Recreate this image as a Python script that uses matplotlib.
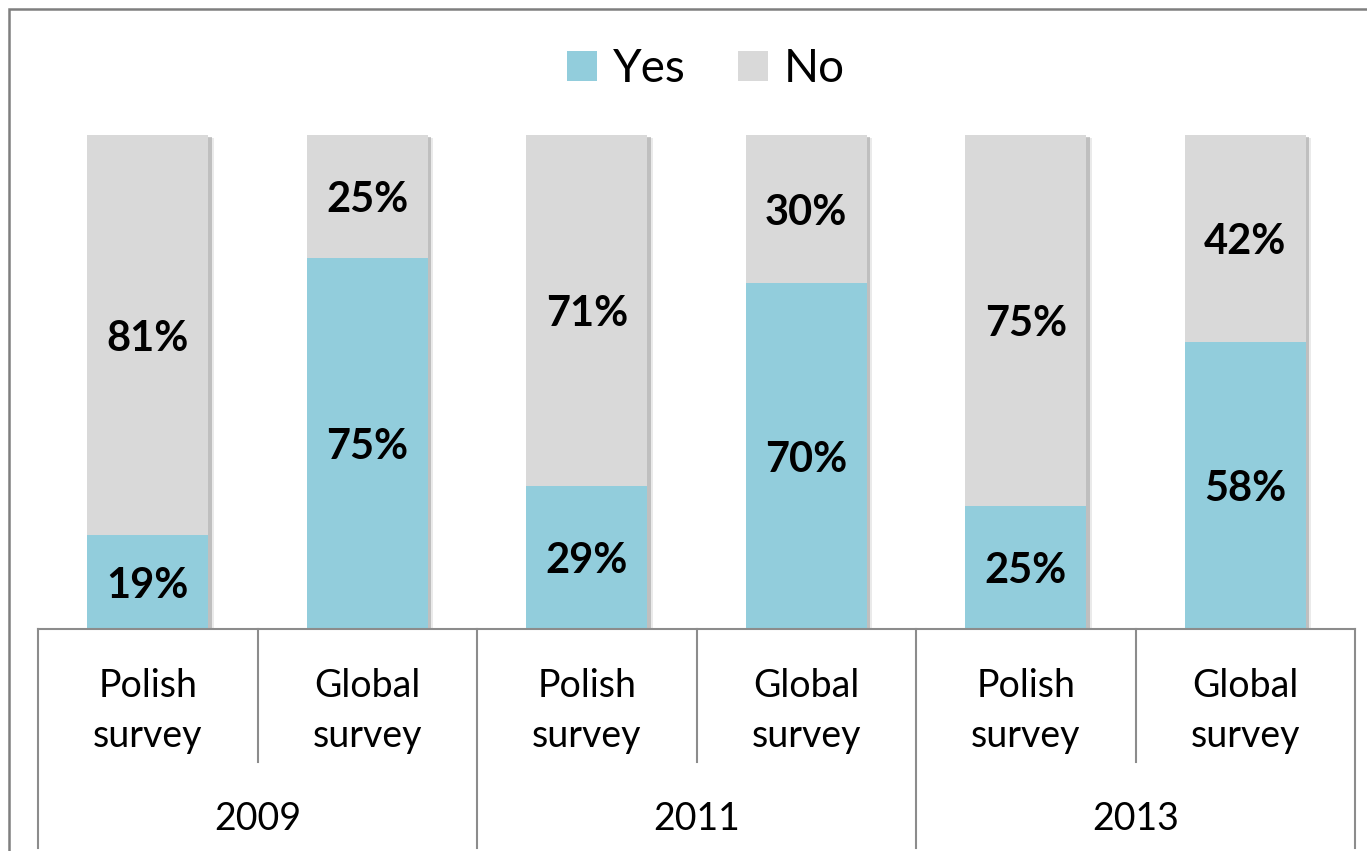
import matplotlib.pyplot as plt
import matplotlib.patheffects as pe
from matplotlib.patches import Rectangle

plt.rcParams['font.family'] = ['Lato', 'DejaVu Sans']

# data
years = ['2009', '2011', '2013']
surveys = ['Polish survey', 'Global survey'] * 3
yes = [19, 75, 29, 70, 25, 58]
no = [81, 25, 71, 30, 75, 42]

blue = '#92CDDC'
grey = '#D9D9D9'
line_col = '#8C8C8C'

W, H = 1367, 851
fig = plt.figure(figsize=(W / 100, H / 100), dpi=100)
ax = fig.add_axes([38 / W, 1 - 629 / H, (1355 - 38) / W, (629 - 135) / H])

x = list(range(len(yes)))
tot = [a + b for a, b in zip(yes, no)]

# backing bar only for the shadow
back = ax.bar(x, tot, width=0.55, color=grey, zorder=1)
for p in back:
    p.set_path_effects([pe.SimplePatchShadow(offset=(2.5, -1.5), shadow_rgbFace='#666666', alpha=0.35),
                        pe.SimplePatchShadow(offset=(4, -2), shadow_rgbFace='#999999', alpha=0.2),
                        pe.Normal()])

b1 = ax.bar(x, yes, width=0.55, color=blue, label='Yes', zorder=2)
b2 = ax.bar(x, no, width=0.55, bottom=yes, color=grey, label='No', zorder=2)

for i in x:
    ax.text(i, yes[i] / 2, f'{yes[i]}%', ha='center', va='center_baseline',
            fontsize=30, fontweight='bold', zorder=3)
    ax.text(i, yes[i] + no[i] / 2, f'{no[i]}%', ha='center', va='center_baseline',
            fontsize=30, fontweight='bold', zorder=3)

ax.set_xlim(-0.5, len(x) - 0.5)
ax.set_ylim(0, 100)
ax.set_yticks([])
ax.set_xticks([])
for s in ['top', 'right', 'left']:
    ax.spines[s].set_visible(False)
ax.spines['bottom'].set_color(line_col)
ax.spines['bottom'].set_linewidth(1.5)

tr = ax.get_xaxis_transform()
def fy(px):
    return (629 - px) / 494

# category labels
for i, lab in enumerate(surveys):
    l1, l2 = lab.split(' ')
    ax.text(i, fy(697), l1, transform=tr, ha='center', va='baseline', fontsize=27)
    ax.text(i, fy(747), l2, transform=tr, ha='center', va='baseline', fontsize=27)

for g, yr in enumerate(years):
    ax.text(2 * g + 0.5, fy(830), yr, transform=tr, ha='center', va='baseline', fontsize=27)

# separators
for k in range(len(x) + 1):
    xs = k - 0.5
    end = fy(848) if k % 2 == 0 else fy(762)
    ax.plot([xs, xs], [0, end], transform=tr, color=line_col, lw=1.5, clip_on=False)

# legend
fig.legend(handles=[b1, b2], labels=['Yes', 'No'], loc='center',
           bbox_to_anchor=(706 / W, 1 - 69 / H), ncol=2, frameon=False,
           fontsize=33, handlelength=0.65, handleheight=0.65,
           handletextpad=0.35, columnspacing=1.15)

# outer border
fig.patches.append(Rectangle((9 / W, -0.05), 1.1, 1 - 9 / H + 0.05, transform=fig.transFigure,
                             fill=False, edgecolor='#7F7F7F', lw=1.8))

plt.savefig('out.png', dpi=100)
